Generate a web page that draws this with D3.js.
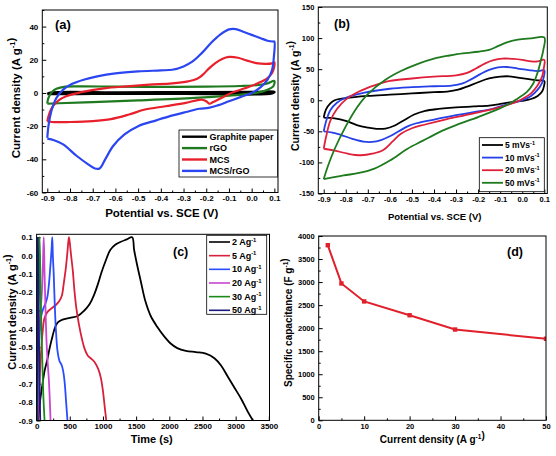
<!DOCTYPE html>
<html><head><meta charset="utf-8">
<script src="https://cdn.jsdelivr.net/npm/d3@7"></script>
<style>
body{margin:0;background:#fff;}
svg text{font-family:"Liberation Sans",Arial,sans-serif;font-weight:bold;fill:#000;}
</style></head>
<body><svg id="chart" width="556" height="456"></svg>
<script>
// ---------- DATA ----------
// (a) CV of different electrodes  [V, j]
const aGraphite = [[-0.9,-0.6],[-0.88,0.2],[-0.6,0.3],[-0.3,0.4],[0,0.5],[0.1,0.7],[0.09,-0.2],[-0.3,-0.4],[-0.7,-0.5],[-0.9,-0.6]];
const aRGO = [[-0.9,-6.5],[-0.895,-3],[-0.88,0.5],[-0.86,2.5],[-0.82,3.8],[-0.75,4],[-0.6,3.8],[-0.4,3.7],[-0.2,3.8],[-0.05,4.2],[0.03,4.8],[0.07,5.8],[0.1,7.2],
  [0.095,4],[0.07,2],[0.02,0],[-0.1,-1.6],[-0.25,-3],[-0.5,-4.5],[-0.7,-5.5],[-0.85,-6.2],[-0.9,-6.5]];
const aMCS = [[-0.9,-17],[-0.89,-12],[-0.875,-8],[-0.85,-4.5],[-0.817,-2],[-0.75,0.5],[-0.65,2.8],[-0.55,4],[-0.45,5],[-0.35,5.8],[-0.28,7],[-0.24,8.5],[-0.215,11],[-0.19,14.5],[-0.16,18],[-0.13,20.5],[-0.1,21.7],[-0.06,21.2],[-0.02,19.5],[0.02,18],[0.06,17.5],[0.09,17.8],[0.1,18.5],
  [0.098,15],[0.09,12],[0.07,9],[0.03,6],[-0.03,2.8],[-0.09,0],[-0.14,-3.5],[-0.17,-5.5],[-0.185,-6.5],[-0.2,-5],[-0.22,-4],[-0.29,-6],[-0.38,-8],[-0.47,-10],[-0.54,-13],[-0.62,-15.8],[-0.7,-17],[-0.8,-17.5],[-0.88,-17.5],[-0.9,-17]];
const aMCSrGO = [[-0.9,-27],[-0.895,-20],[-0.88,-10],[-0.86,-3],[-0.83,2],[-0.79,5.5],[-0.74,8],[-0.68,10],[-0.6,11.8],[-0.5,13],[-0.4,13.6],[-0.35,14],[-0.3,16],[-0.26,19],[-0.22,24],[-0.18,30],[-0.14,35],[-0.1,38.3],[-0.07,38.5],[-0.04,37],[0,35],[0.04,33],[0.07,31.5],[0.095,31],[0.1,31],
  [0.098,22],[0.09,14],[0.07,8],[0.04,3.5],[0,0],[-0.05,-2.5],[-0.1,-5],[-0.15,-7.5],[-0.19,-9],[-0.23,-9.5],[-0.29,-11.5],[-0.36,-14],[-0.42,-16.5],[-0.5,-20],[-0.56,-25],[-0.61,-32],[-0.645,-40],[-0.67,-45.5],[-0.69,-45.5],[-0.72,-43],[-0.77,-38],[-0.83,-31],[-0.87,-28.5],[-0.9,-27.5]];
const aNames = ["Graphite paper","rGO","MCS","MCS/rGO"];
const aColors = ["#000000","#1f7a1f","#e8202c","#2b45f0"];

// (b) CV of MCS/rGO at different scan rates
const b5 = [[-0.9,-28],[-0.89,-15],[-0.87,-5],[-0.85,0],[-0.8,3.5],[-0.7,7],[-0.6,9],[-0.5,11],[-0.4,13],[-0.34,14],[-0.29,17],[-0.25,22],[-0.2,29],[-0.15,35],[-0.1,38],[-0.06,38.5],[-0.02,36.5],[0.03,34],[0.07,32],[0.1,31],
  [0.098,22],[0.09,14],[0.07,7],[0.04,2],[0,-1],[-0.05,-3],[-0.1,-6],[-0.15,-8.5],[-0.22,-10],[-0.3,-11.5],[-0.38,-14],[-0.44,-17],[-0.49,-23],[-0.54,-33],[-0.58,-41],[-0.62,-45.5],[-0.66,-46],[-0.7,-44],[-0.75,-40],[-0.8,-33],[-0.85,-29],[-0.9,-28]];
const b10 = [[-0.9,-50],[-0.89,-35],[-0.87,-16],[-0.84,-4],[-0.8,4],[-0.72,12],[-0.6,18.5],[-0.5,21],[-0.4,22.5],[-0.32,23.5],[-0.27,27],[-0.23,34],[-0.19,42],[-0.15,49],[-0.11,53],[-0.07,53.5],[-0.02,51],[0.03,48.5],[0.07,47],[0.1,48],
  [0.098,38],[0.09,28],[0.07,17],[0.04,7],[0,0],[-0.05,-5],[-0.1,-10],[-0.15,-15],[-0.22,-19],[-0.3,-24],[-0.4,-31],[-0.48,-37],[-0.52,-42],[-0.56,-50],[-0.6,-58],[-0.64,-64],[-0.68,-67],[-0.72,-66.5],[-0.77,-62],[-0.82,-56],[-0.86,-52],[-0.9,-50]];
const b20 = [[-0.9,-78],[-0.89,-60],[-0.87,-33],[-0.84,-14],[-0.8,1],[-0.74,14],[-0.67,24],[-0.6,31],[-0.5,35],[-0.4,38],[-0.3,40],[-0.25,44],[-0.21,51],[-0.17,59],[-0.13,64.5],[-0.09,67],[-0.04,66.5],[0,65],[0.04,62.5],[0.07,62.5],[0.1,65],
  [0.098,52],[0.09,38],[0.07,24],[0.04,11],[0,2],[-0.03,-3],[-0.1,-11],[-0.18,-18],[-0.27,-25],[-0.35,-31],[-0.44,-39],[-0.5,-45],[-0.55,-54],[-0.59,-67],[-0.63,-80],[-0.68,-86],[-0.73,-88.5],[-0.79,-86],[-0.85,-81],[-0.9,-78]];
const b50 = [[-0.9,-127],[-0.88,-105],[-0.85,-78],[-0.8,-42],[-0.75,-12],[-0.7,10],[-0.62,33],[-0.55,47],[-0.47,59],[-0.4,67],[-0.33,72],[-0.27,75.5],[-0.2,78],[-0.15,81],[-0.11,87],[-0.07,93],[-0.02,97.5],[0.04,99.5],[0.1,101],
  [0.095,80],[0.085,65],[0.07,45],[0.05,27],[0.02,13],[-0.02,3],[-0.06,-6],[-0.12,-16],[-0.2,-27],[-0.3,-40],[-0.38,-52],[-0.45,-65],[-0.52,-78],[-0.6,-97],[-0.67,-110],[-0.74,-117],[-0.81,-121],[-0.9,-127]];
const bNames = ["5 mVs","10 mVs","20 mVs","50 mVs"];
const bColors = ["#000000","#2540e8","#e0203a","#1e7a1e"];

// (c) GCD curves  [t (s), V]
const c2 = [[20,-0.9],[50,-0.8],[85,-0.71],[120,-0.63],[160,-0.57],[200,-0.5],[240,-0.44],[280,-0.39],[320,-0.365],[390,-0.35],[500,-0.34],[620,-0.33],[720,-0.3],[800,-0.265],[860,-0.22],[920,-0.16],[980,-0.09],[1040,-0.03],[1110,0.03],[1190,0.06],[1270,0.075],[1360,0.088],[1440,0.1],
  [1470,0.03],[1520,-0.06],[1570,-0.14],[1640,-0.25],[1720,-0.33],[1820,-0.39],[1920,-0.44],[2020,-0.48],[2120,-0.505],[2250,-0.52],[2400,-0.527],[2550,-0.535],[2680,-0.56],[2780,-0.6],[2880,-0.66],[2980,-0.72],[3080,-0.78],[3180,-0.85],[3260,-0.9]];
const c5 = [[15,-0.9],[35,-0.75],[60,-0.57],[90,-0.42],[120,-0.34],[160,-0.31],[220,-0.29],[290,-0.27],[340,-0.25],[380,-0.22],[410,-0.15],[440,-0.07],[465,0.02],[487,0.1],
  [500,0.07],[520,0.0],[545,-0.08],[570,-0.19],[600,-0.29],[640,-0.38],[680,-0.45],[720,-0.505],[770,-0.545],[830,-0.565],[880,-0.585],[930,-0.62],[970,-0.67],[1000,-0.74],[1025,-0.82],[1050,-0.9]];
const c10 = [[10,-0.9],[25,-0.65],[45,-0.42],[70,-0.33],[100,-0.29],[130,-0.265],[160,-0.23],[185,-0.16],[205,-0.07],[225,0.03],[236,0.1],
  [245,0.0],[258,-0.1],[272,-0.25],[290,-0.4],[315,-0.52],[345,-0.575],[380,-0.6],[405,-0.64],[425,-0.7],[445,-0.8],[465,-0.9]];
const c20 = [[8,-0.9],[20,-0.6],[40,-0.4],[60,-0.3],[80,-0.2],[95,-0.05],[108,0.1],[120,-0.1],[135,-0.3],[150,-0.47],[170,-0.6],[185,-0.68],[200,-0.8],[210,-0.9]];
const c30 = [[5,-0.9],[15,-0.6],[30,-0.3],[45,0.1],[60,-0.2],[80,-0.5],[100,-0.75],[120,-0.9]];
const c50 = [[3,-0.9],[10,-0.5],[20,0.1],[30,-0.3],[45,-0.7],[55,-0.9]];
const cNames = ["2 Ag","5 Ag","10 Ag","20 Ag","30 Ag","50 Ag"];
const cColors = ["#000000","#d8203a","#2a4cff","#c845d0","#1a8a1a","#1a1a80"];

// (d) rate capability
const dCurrent = [2,5,10,20,30,50];
const dCapacitance = [3800,2970,2580,2280,1970,1770];

// tick values
const aXTicks = [-0.9,-0.8,-0.7,-0.6,-0.5,-0.4,-0.3,-0.2,-0.1,0.0,0.1];
const aYTicks = [-60,-40,-20,0,20,40];
const bYTicks = [-150,-100,-50,0,50,100,150];
const cXTicks = [0,500,1000,1500,2000,2500,3000,3500];
const cYTicks = [-0.9,-0.8,-0.7,-0.6,-0.5,-0.4,-0.3,-0.2,-0.1,0.0,0.1];
const dXTicks = [0,10,20,30,40,50];
const dYTicks = [0,500,1000,1500,2000,2500,3000,3500,4000];

// ---------- DRAW ----------
const svg = d3.select("#chart");
const hy = v => String(v).replace("\u2212","-");
const f1 = v => hy(d3.format(".1f")(v));
const f0 = v => hy(d3.format("d")(v));

function minors(ticks){const r=[];for(let i=0;i<ticks.length-1;i++)r.push((ticks[i]+ticks[i+1])/2);return r;}

function supText(g, x, y, parts, size, rotate){
  const t = g.append("text").attr("font-size", size).attr("text-anchor","middle")
    .attr("transform", `translate(${x},${y})` + (rotate?" rotate(-90)":""));
  parts.forEach(p=>{
    if(p.sup){ t.append("tspan").attr("dy",-size*0.4).attr("font-size",size*0.65).text(p.sup);
               t.append("tspan").attr("dy",size*0.4).text(""); }
    else t.append("tspan").text(p.t);
  });
  return t;
}

function panel(cfg){
  const g = svg.append("g");
  const x = d3.scaleLinear().domain(cfg.xd).range(cfg.xr);
  const y = d3.scaleLinear().domain(cfg.yd).range(cfg.yr);
  const id = "clip"+cfg.name;
  g.append("clipPath").attr("id",id).append("rect")
    .attr("x",cfg.xr[0]).attr("y",cfg.yr[1]).attr("width",cfg.xr[1]-cfg.xr[0]).attr("height",cfg.yr[0]-cfg.yr[1]);
  const fs = cfg.tickFont;
  const ax = g.append("g").attr("transform",`translate(0,${cfg.yr[0]})`)
    .call(d3.axisBottom(x).tickValues(cfg.xt).tickFormat(cfg.xf).tickSize(-4).tickPadding(3));
  const axm = g.append("g").attr("transform",`translate(0,${cfg.yr[0]})`)
    .call(d3.axisBottom(x).tickValues(minors(cfg.xt)).tickFormat("").tickSize(-2));
  const ay = g.append("g").attr("transform",`translate(${cfg.xr[0]},0)`)
    .call(d3.axisLeft(y).tickValues(cfg.yt).tickFormat(cfg.yf).tickSize(-4).tickPadding(4));
  const aym = g.append("g").attr("transform",`translate(${cfg.xr[0]},0)`)
    .call(d3.axisLeft(y).tickValues(cfg.ym||minors(cfg.yt)).tickFormat("").tickSize(-2));
  [ax,axm,ay,aym].forEach(a=>{a.select(".domain").remove();
    a.selectAll("text").attr("font-size",fs).attr("font-family",null);
    a.selectAll("line").attr("stroke","#000").attr("stroke-width",1);});
  const plot = g.append("g").attr("clip-path",`url(#${id})`);
  g.append("rect").attr("x",cfg.xr[0]).attr("y",cfg.yr[1]).attr("width",cfg.xr[1]-cfg.xr[0]).attr("height",cfg.yr[0]-cfg.yr[1])
    .attr("fill","none").attr("stroke","#000").attr("stroke-width",1);
  return {g,x,y,plot};
}

function legend(g, box, names, colors, supr, fs, lw){
  g.append("rect").attr("x",box.x).attr("y",box.y).attr("width",box.w).attr("height",box.h)
    .attr("fill","#fff").attr("stroke","#000").attr("stroke-width",0.8);
  names.forEach((n,i)=>{
    const yy = box.y0 + i*box.dy;
    g.append("line").attr("x1",box.lx0).attr("x2",box.lx1).attr("y1",yy).attr("y2",yy)
      .attr("stroke",colors[i]).attr("stroke-width",lw);
    const t = g.append("text").attr("x",box.tx).attr("y",yy).attr("dy","0.35em").attr("font-size",fs);
    t.append("tspan").text(n);
    if(supr){ t.append("tspan").attr("dy",-fs*0.4).attr("font-size",fs*0.65).text("-1"); }
  });
}

const lineGen = (x,y)=>d3.line().x(d=>x(d[0])).y(d=>y(d[1])).curve(d3.curveCatmullRom.alpha(0.5));

// ----- (a)
{
  const P = panel({name:"a",xd:[-0.922,0.116],xr:[42.3,278],yd:[-60,50],yr:[192.5,10],
    xt:aXTicks,yt:aYTicks,ym:[-50,-30,-10,10,30,50],xf:f1,yf:f0,tickFont:8});
  [aGraphite,aRGO,aMCS,aMCSrGO].forEach((d,i)=>{
    P.plot.append("path").datum(d).attr("d",lineGen(P.x,P.y)).attr("fill","none")
      .attr("stroke",aColors[i]).attr("stroke-width",i===0?2.6:2.2);
  });
  legend(P.g,{x:179,y:130,w:98.5,h:47,y0:136.7,dy:11.4,lx0:182,lx1:207,tx:209.5},aNames,aColors,false,9,2.4);
  P.g.append("text").attr("x",55).attr("y",24).attr("dy","0.35em").attr("font-size",13).text("(a)");
  P.g.append("text").attr("x",161.7).attr("y",213.3).attr("dy","0.35em").attr("text-anchor","middle").attr("font-size",11.5).text("Potential vs. SCE (V)");
  supText(P.g,16,98,[{t:"Current density (A g"},{sup:"-1"},{t:")"}],11.5,true).attr("dy","0.35em");
}
// ----- (b)
{
  const P = panel({name:"b",xd:[-0.9245,0.1136],xr:[318.3,547.3],yd:[-150,150],yr:[193.5,7],
    xt:aXTicks,yt:bYTicks,xf:f1,yf:f0,tickFont:7.5});
  [b5,b10,b20,b50].forEach((d,i)=>{
    P.plot.append("path").datum(d).attr("d",lineGen(P.x,P.y)).attr("fill","none")
      .attr("stroke",bColors[i]).attr("stroke-width",1.8);
  });
  legend(P.g,{x:479.3,y:137.7,w:65,h:54,y0:145,dy:12.6,lx0:482,lx1:503,tx:505},bNames,bColors,true,8.5,1.8);
  P.g.append("text").attr("x",334).attr("y",24).attr("dy","0.35em").attr("font-size",12.5).text("(b)");
  P.g.append("text").attr("x",434.7).attr("y",216.7).attr("dy","0.35em").attr("text-anchor","middle").attr("font-size",9.5).text("Potential vs. SCE (V)");
  supText(P.g,295,96,[{t:"Current density (A g"},{sup:"-1"},{t:")"}],10.5,true).attr("dy","0.35em");
}
// ----- (c)
{
  const P = panel({name:"c",xd:[0,3510],xr:[36.6,269.5],yd:[-0.9,0.1157],yr:[420.5,234.3],
    xt:cXTicks,yt:cYTicks,ym:[],xf:f0,yf:f1,tickFont:8});
  [c2,c5,c10,c20,c30,c50].forEach((d,i)=>{
    P.plot.append("path").datum(d).attr("d",lineGen(P.x,P.y)).attr("fill","none")
      .attr("stroke",cColors[i]).attr("stroke-width",1.8);
  });
  legend(P.g,{x:206.7,y:235.3,w:60,h:79,y0:242,dy:13.66,lx0:209,lx1:230,tx:232},cNames,cColors,true,9,1.6);
  P.g.append("text").attr("x",173).attr("y",252).attr("dy","0.35em").attr("font-size",12.5).text("(c)");
  P.g.append("text").attr("x",151.7).attr("y",438.7).attr("dy","0.35em").attr("text-anchor","middle").attr("font-size",11).text("Time (s)");
  supText(P.g,12,312,[{t:"Current density (A g"},{sup:"-1"},{t:")"}],11,true).attr("dy","0.35em");
}
// ----- (d)
{
  const P = panel({name:"d",xd:[0,50],xr:[318.7,546],yd:[0,4000],yr:[420.3,236],
    xt:dXTicks,yt:dYTicks,xf:f0,yf:f0,tickFont:7.5});
  const pts = dCurrent.map((c,i)=>[c,dCapacitance[i]]);
  P.plot.append("path").datum(pts).attr("d",d3.line().x(d=>P.x(d[0])).y(d=>P.y(d[1])))
    .attr("fill","none").attr("stroke","#e0202a").attr("stroke-width",2);
  P.plot.selectAll("rect.m").data(pts).join("rect").attr("class","m")
    .attr("x",d=>P.x(d[0])-2.2).attr("y",d=>P.y(d[1])-2.2).attr("width",4.4).attr("height",4.4).attr("fill","#e0202a");
  P.g.append("text").attr("x",507).attr("y",252).attr("dy","0.35em").attr("font-size",12.5).text("(d)");
  supText(P.g,432.3,439.3,[{t:"Current density (A g"},{sup:"-1"},{t:")"}],10,false).attr("dy","0.35em");
  supText(P.g,288.5,322.7,[{t:"Specific capacitance (F g"},{sup:"-1"},{t:")"}],10,true).attr("dy","0.35em");
}
</script></body></html>
